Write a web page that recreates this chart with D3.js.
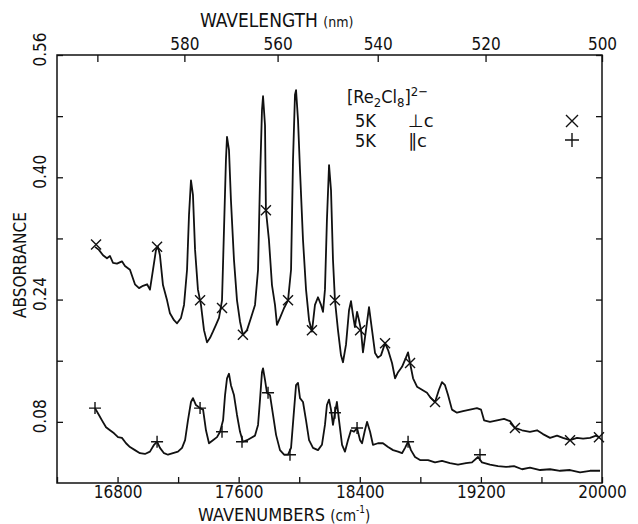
<!DOCTYPE html>
<html lang="en">
<head>
<meta charset="UTF-8">
<title>Re2Cl8 absorbance</title>
<script src="https://cdn.jsdelivr.net/npm/d3@7"></script>
<style>
  body { margin: 0; background: #fff; }
  text { font-family: "DejaVu Sans Condensed", "DejaVu Sans", sans-serif; fill: #111; }
  .sym { font-family: "DejaVu Sans", sans-serif; }
</style>
</head>
<body>
<svg></svg>
<script>
// spectrum polarised perpendicular to c, [wavenumber, absorbance]
var perpC = [
  [16651,0.309],[16677,0.305],[16704,0.298],[16730,0.294],[16750,0.297],[16770,0.288],
  [16796,0.287],[16829,0.290],[16849,0.284],[16882,0.279],[16915,0.260],[16942,0.255],
  [16968,0.258],[16995,0.260],[17014,0.253],[17034,0.279],[17054,0.305],[17067,0.309],
  [17080,0.298],[17100,0.259],[17127,0.239],[17146,0.222],[17173,0.213],[17193,0.209],
  [17219,0.216],[17239,0.233],[17259,0.279],[17272,0.351],[17285,0.396],[17298,0.377],
  [17312,0.305],[17331,0.253],[17351,0.233],[17371,0.200],[17391,0.184],[17411,0.190],
  [17430,0.198],[17450,0.207],[17470,0.216],[17490,0.239],[17503,0.331],[17516,0.423],
  [17523,0.453],[17536,0.436],[17549,0.370],[17569,0.292],[17589,0.239],[17609,0.211],
  [17628,0.194],[17655,0.200],[17681,0.216],[17708,0.233],[17728,0.279],[17741,0.396],
  [17754,0.488],[17761,0.506],[17774,0.468],[17780,0.357],[17800,0.318],[17820,0.259],
  [17840,0.233],[17853,0.207],[17873,0.216],[17900,0.229],[17926,0.239],[17946,0.279],
  [17959,0.423],[17972,0.508],[17979,0.514],[17992,0.475],[18005,0.410],[18025,0.318],
  [18045,0.253],[18065,0.213],[18084,0.198],[18104,0.233],[18124,0.243],[18144,0.233],
  [18157,0.224],[18170,0.253],[18183,0.344],[18197,0.416],[18210,0.383],[18223,0.292],
  [18236,0.239],[18256,0.200],[18276,0.167],[18289,0.158],[18309,0.181],[18329,0.226],
  [18342,0.238],[18355,0.220],[18368,0.204],[18382,0.224],[18395,0.213],[18408,0.200],
  [18421,0.171],[18441,0.200],[18461,0.230],[18481,0.200],[18501,0.170],[18520,0.164],
  [18540,0.167],[18567,0.183],[18587,0.174],[18613,0.157],[18633,0.137],[18653,0.145],
  [18679,0.152],[18705,0.164],[18719,0.171],[18732,0.157],[18752,0.137],[18778,0.126],
  [18811,0.122],[18844,0.118],[18870,0.111],[18897,0.106],[18923,0.122],[18943,0.132],
  [18963,0.128],[18983,0.115],[19009,0.096],[19042,0.092],[19082,0.094],[19128,0.096],
  [19174,0.098],[19201,0.096],[19221,0.082],[19260,0.080],[19307,0.082],[19353,0.084],
  [19392,0.081],[19425,0.072],[19472,0.069],[19524,0.067],[19571,0.069],[19610,0.064],
  [19657,0.059],[19703,0.062],[19742,0.059],[19789,0.056],[19835,0.059],[19875,0.058],
  [19921,0.059],[19961,0.062],[19987,0.059]
];
// spectrum polarised parallel to c
var paraC = [
  [16651,0.098],[16677,0.089],[16697,0.082],[16724,0.073],[16750,0.069],[16777,0.065],
  [16803,0.060],[16829,0.059],[16856,0.052],[16882,0.047],[16915,0.043],[16948,0.039],
  [16981,0.038],[17014,0.041],[17041,0.050],[17061,0.054],[17080,0.046],[17107,0.039],
  [17133,0.037],[17166,0.039],[17199,0.041],[17226,0.046],[17246,0.056],[17265,0.082],
  [17285,0.106],[17298,0.111],[17318,0.102],[17345,0.098],[17365,0.096],[17384,0.069],
  [17404,0.052],[17430,0.056],[17457,0.060],[17477,0.067],[17497,0.082],[17510,0.115],
  [17523,0.137],[17536,0.143],[17549,0.128],[17569,0.115],[17589,0.089],[17609,0.067],
  [17628,0.054],[17655,0.056],[17681,0.059],[17708,0.062],[17728,0.076],[17741,0.109],
  [17754,0.145],[17761,0.150],[17774,0.135],[17787,0.118],[17807,0.115],[17827,0.089],
  [17847,0.063],[17873,0.043],[17900,0.037],[17926,0.037],[17946,0.046],[17966,0.096],
  [17979,0.128],[17992,0.131],[18005,0.111],[18025,0.106],[18045,0.082],[18065,0.056],
  [18091,0.046],[18124,0.043],[18150,0.050],[18170,0.076],[18183,0.102],[18197,0.109],
  [18210,0.096],[18223,0.076],[18236,0.092],[18249,0.106],[18263,0.082],[18283,0.050],
  [18302,0.041],[18322,0.056],[18342,0.069],[18362,0.067],[18382,0.072],[18402,0.056],
  [18415,0.052],[18434,0.069],[18448,0.080],[18468,0.067],[18487,0.050],[18520,0.052],
  [18553,0.052],[18587,0.047],[18620,0.043],[18653,0.041],[18679,0.039],[18699,0.046],
  [18719,0.054],[18738,0.043],[18765,0.034],[18798,0.030],[18851,0.030],[18897,0.027],
  [18943,0.029],[18996,0.026],[19049,0.024],[19102,0.026],[19141,0.027],[19181,0.034],
  [19207,0.027],[19260,0.024],[19313,0.022],[19366,0.021],[19419,0.022],[19472,0.018],
  [19524,0.020],[19591,0.017],[19657,0.018],[19723,0.016],[19789,0.017],[19855,0.014],
  [19921,0.016],[19987,0.016]
];
// symbols plotted on the traces
var perpMarks = [
  [16658,0.312],[17061,0.309],[17345,0.239],[17490,0.229],[17628,0.194],[17780,0.357],
  [17926,0.239],[18084,0.200],[18236,0.239],[18402,0.200],[18567,0.183],[18732,0.157],
  [18897,0.106],[19425,0.072],[19789,0.056],[19980,0.060]
];
var paraMarks = [
  [16651,0.098],[17061,0.054],[17345,0.098],[17490,0.067],[17622,0.054],[17794,0.118],
  [17939,0.037],[18236,0.092],[18382,0.072],[18719,0.054],[19194,0.037]
];

var wnTicks = [16400,16800,17200,17600,18000,18400,18800,19200,19600,20000];
var wnLabels = [16800,17600,18400,19200,20000];
var nmTicks = [600,580,560,540,520,500];
var nmLabels = [580,560,540,520,500];
var absTicks = [0.08,0.16,0.24,0.32,0.40,0.48,0.56];
var absLabels = [0.08,0.24,0.40,0.56];

var width = 638, height = 524;
var margin = {top: 55, right: 36, bottom: 41, left: 57};
var w = width - margin.left - margin.right;
var h = height - margin.top - margin.bottom;

var svg = d3.select('svg').attr('width', width).attr('height', height);
var g = svg.append('g').attr('transform', 'translate(' + margin.left + ',' + margin.top + ')');

var x = d3.scaleLinear().domain([16400, 20000]).range([0, w]);
var y = d3.scaleLinear().domain([0, 0.56]).range([h, 0]);

function styleAxis(sel) {
    sel.select('.domain').remove();
    sel.selectAll('line').attr('stroke', '#111').attr('stroke-width', 1.3);
    sel.selectAll('text').style('font-size', '17px');
}

// bottom axis, wavenumbers
g.append('g')
    .attr('transform', 'translate(0,' + h + ')')
    .call(d3.axisBottom(x).tickValues(wnTicks).tickSize(-6).tickSizeOuter(0).tickPadding(3)
        .tickFormat(function(d){ return wnLabels.indexOf(d) >= 0 ? d : ''; }))
    .call(styleAxis);

// top axis, wavelength in nm
g.append('g')
    .call(d3.axisTop(x).tickValues(nmTicks.map(function(d){ return 1e7 / d; }))
        .tickSize(-7).tickSizeOuter(0).tickPadding(5)
        .tickFormat(function(d, i){ return nmLabels.indexOf(nmTicks[i]) >= 0 ? nmTicks[i] : ''; }))
    .call(styleAxis);

// left axis, rotated labels
var left = g.append('g')
    .call(d3.axisLeft(y).tickValues(absTicks).tickSize(-6).tickSizeOuter(0)
        .tickFormat(function(d){ return absLabels.some(function(v){ return Math.abs(v - d) < 1e-6; }) ? d.toFixed(2) : ''; }))
    .call(styleAxis);
left.selectAll('text')
    .attr('text-anchor', 'middle')
    .attr('dy', null)
    .attr('x', 6)
    .attr('y', -11)
    .attr('transform', 'rotate(-90)');

// right axis, ticks only
g.append('g')
    .attr('transform', 'translate(' + w + ',0)')
    .call(d3.axisRight(y).tickValues(absTicks).tickSize(-6).tickSizeOuter(0).tickFormat(''))
    .call(styleAxis);

// frame
g.append('rect')
    .attr('width', w).attr('height', h)
    .attr('fill', 'none').attr('stroke', '#111').attr('stroke-width', 1.5);

// traces
var line = d3.line()
    .x(function(d){ return x(d[0]); })
    .y(function(d){ return y(d[1]); });

[perpC, paraC].forEach(function(s){
    g.append('path')
        .datum(s)
        .attr('d', line)
        .attr('fill', 'none')
        .attr('stroke', '#111')
        .attr('stroke-width', 1.8)
        .attr('stroke-linejoin', 'round');
});

var cross = 'M-5,-5L5,5M-5,5L5,-5';
var plus = 'M-6,0L6,0M0,-6L0,6';

g.selectAll('.pm').data(perpMarks).enter().append('path')
    .attr('class', 'pm')
    .attr('transform', function(d){ return 'translate(' + x(d[0]) + ',' + y(d[1]) + ')'; })
    .attr('d', cross).attr('stroke', '#111').attr('stroke-width', 1.4);

g.selectAll('.am').data(paraMarks).enter().append('path')
    .attr('class', 'am')
    .attr('transform', function(d){ return 'translate(' + x(d[0]) + ',' + y(d[1]) + ')'; })
    .attr('d', plus).attr('stroke', '#111').attr('stroke-width', 1.4);

// axis titles
svg.append('text')
    .attr('x', 200).attr('y', 27)
    .style('font-size', '19px')
    .text('WAVELENGTH ')
    .append('tspan').style('font-size', '14px').text('(nm)');

var bt = svg.append('text')
    .attr('x', 198).attr('y', 521)
    .style('font-size', '18px')
    .text('WAVENUMBERS ');
bt.append('tspan').style('font-size', '15px').text('(cm');
bt.append('tspan').style('font-size', '10px').attr('dy', -8).text('-1');
bt.append('tspan').style('font-size', '15px').attr('dy', 8).text(')');

svg.append('text')
    .attr('transform', 'translate(26,265) rotate(-90)')
    .attr('text-anchor', 'middle')
    .style('font-size', '17px')
    .text('ABSORBANCE');

// legend
var lg = svg.append('g');
var title = lg.append('text').attr('x', 347).attr('y', 103).style('font-size', '18px');
title.append('tspan').text('[Re');
title.append('tspan').attr('dy', 4).style('font-size', '13px').text('2');
title.append('tspan').attr('dy', -4).text('Cl');
title.append('tspan').attr('dy', 4).style('font-size', '13px').text('8');
title.append('tspan').attr('dy', -4).text(']');
title.append('tspan').attr('dy', -7).style('font-size', '13px').text('2−');

lg.append('text').attr('x', 355).attr('y', 127).style('font-size', '18px').text('5K');
lg.append('text').attr('class', 'sym').attr('x', 408).attr('y', 127).style('font-size', '18px').text('⊥c');
lg.append('text').attr('x', 355).attr('y', 147).style('font-size', '18px').text('5K');
lg.append('text').attr('class', 'sym').attr('x', 408).attr('y', 147).style('font-size', '18px').text('∥c');
lg.append('path').attr('transform', 'translate(572,121)').attr('d', 'M-6,-6L6,6M-6,6L6,-6')
    .attr('stroke', '#111').attr('stroke-width', 1.4);
lg.append('path').attr('transform', 'translate(572,140)').attr('d', 'M-7,0L7,0M0,-7L0,7')
    .attr('stroke', '#111').attr('stroke-width', 1.4);
</script>
</body>
</html>
